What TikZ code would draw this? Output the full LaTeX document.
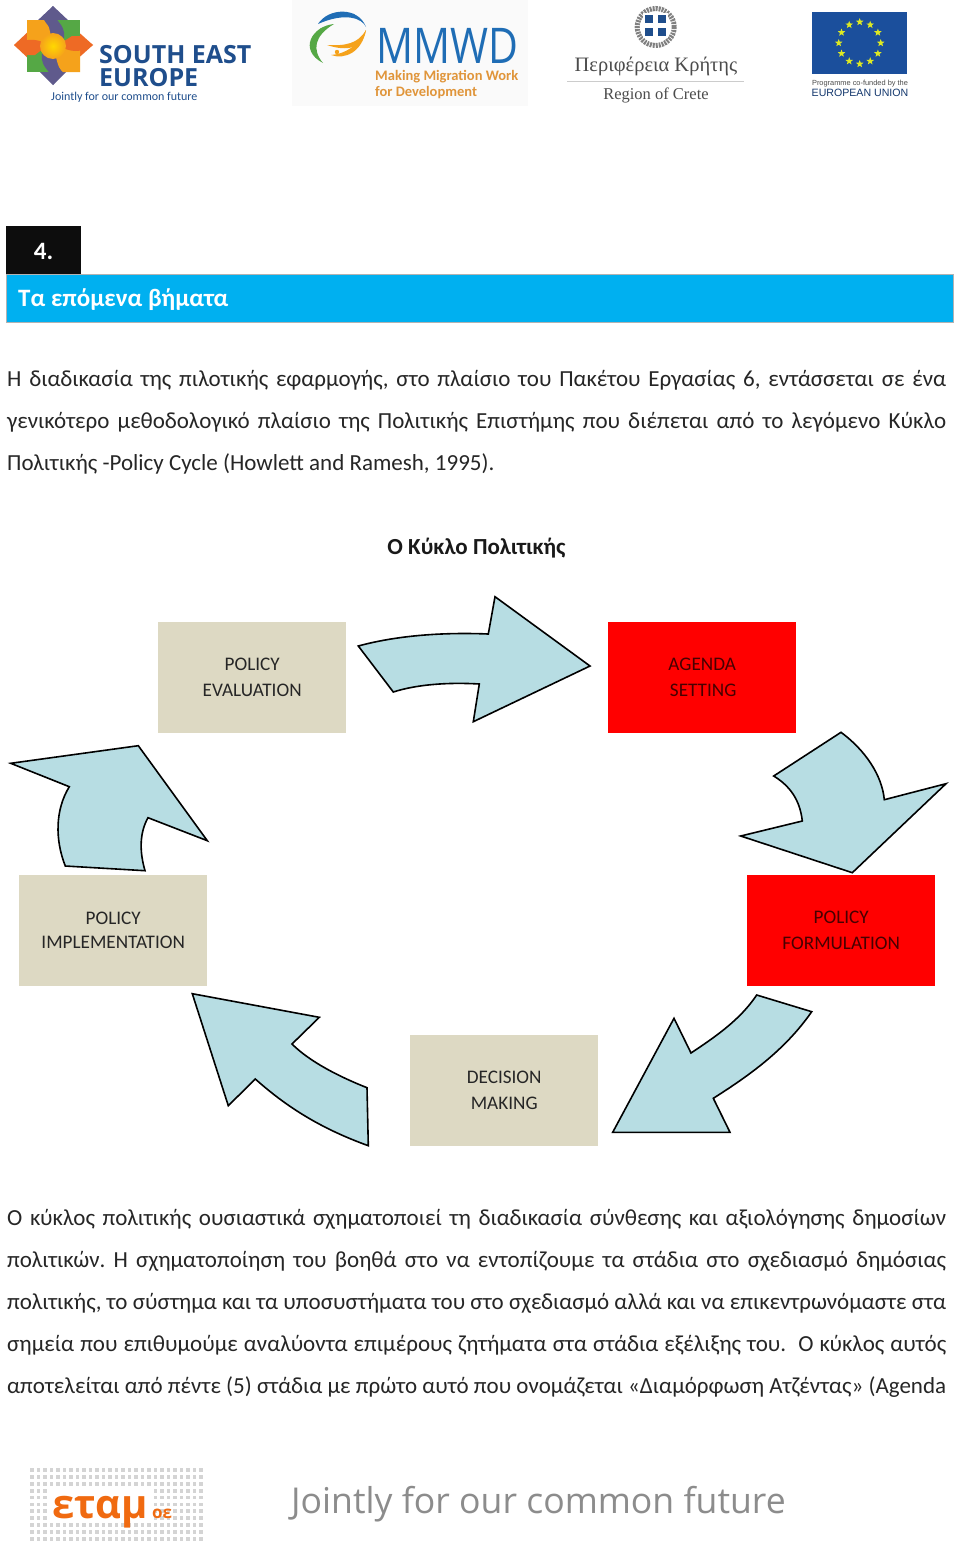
\documentclass[tikz,border=0pt]{standalone}
\usepackage{fontspec}
\setmainfont{Carlito}
\newfontfamily\logosans{Open Sans}
\newfontfamily\logoserif{Liberation Serif}
\newfontfamily\logoarial{Liberation Sans}
\usetikzlibrary{shapes.geometric,calc,decorations.pathmorphing}
\definecolor{tan}{HTML}{DDD9C3}
\definecolor{blockred}{HTML}{FF0000}
\definecolor{arrowfill}{HTML}{B7DDE3}
\definecolor{headblue}{HTML}{00B0F0}
\definecolor{seablue}{HTML}{1F4E8C}
\definecolor{eublue}{HTML}{1B4F9C}
\definecolor{mmwd}{HTML}{1F6DB5}
\definecolor{mmorange}{HTML}{E0953A}
\definecolor{etam}{HTML}{F06A10}
\definecolor{seapurple}{HTML}{5F5A8C}
\definecolor{seagreen}{HTML}{55A845}
\definecolor{seaorange}{HTML}{F5A21B}
\definecolor{seared}{HTML}{EE6A25}
\definecolor{seayellow}{HTML}{FFD800}
\tikzset{
  tanbox/.style={fill=tan,draw=none,minimum width=188pt,minimum height=111pt,anchor=north west,inner sep=0pt,align=center,font=\fontsize{19.2}{26}\selectfont,text=black!85},
  redbox/.style={tanbox,fill=blockred,text=black!72!red},
  blockarrow/.style={fill=arrowfill,draw=black,line width=1.6pt,line join=miter},
  bodyline/.style={anchor=base west,inner sep=0pt,font=\fontsize{23}{26}\selectfont,text=black!85},
}
\newcommand{\just}[1]{\makebox[939pt][s]{#1}}
\frenchspacing
\begin{document}
\begin{tikzpicture}[x=1pt,y=-1pt]
\useasboundingbox (0,0) rectangle (960,1547);
\fill[white] (0,0) rectangle (960,1547);

% South East Europe logo
\fill[seapurple] (53,6) -- (70,22) -- (53,40) -- (36,22) -- cycle;
\fill[seapurple] (53,85) -- (36,68) -- (53,50) -- (70,68) -- cycle;
\fill[seared] (14,45) -- (32,28) -- (48,45) -- (32,62) -- cycle;
\fill[seared] (93,45) -- (74,28) -- (58,45) -- (74,62) -- cycle;
\fill[seagreen] (53,46) -- (53,20) -- (80,20) -- (80,46) -- cycle;
\fill[seagreen] (53,46) -- (53,72) -- (27,72) -- (27,46) -- cycle;
\fill[seaorange] (27,20) -- (44,20) .. controls (50,24) and (50,34) .. (53,46) -- (27,46) -- cycle;
\fill[seaorange] (80,72) -- (63,72) .. controls (57,68) and (57,58) .. (53,46) -- (80,46) -- cycle;
\fill[seapurple] (53,6) .. controls (52,22) and (66,22) .. (64,38) -- (54,38) .. controls (54,28) and (44,24) .. (44,18) -- cycle;
\fill[seapurple] (53,85) .. controls (54,70) and (40,70) .. (42,54) -- (52,54) .. controls (52,64) and (62,68) .. (62,74) -- cycle;
\fill[seared] (14,45) .. controls (25,38) and (38,38) .. (48,45) -- (35,55) -- (27,55) -- cycle;
\fill[seared] (93,45) .. controls (82,53) and (70,53) .. (58,45) -- (72,36) -- (80,36) -- cycle;
\shade[inner color=seayellow,outer color=seaorange] (53,46) circle (13);
\node[anchor=base west,inner sep=0pt,text=seablue,font=\logosans\fontsize{25}{25}\selectfont\bfseries] (seaone) at (99,63) {SOUTH EAST};
\node[anchor=base west,inner sep=0pt,text=seablue,font=\logosans\fontsize{25}{25}\selectfont\bfseries] (seatwo) at (99,86) {EUROPE};
\node[anchor=base west,inner sep=0pt,text=seablue,font=\fontsize{12}{12}\selectfont] (seathree) at (51,100) {Jointly for our common future};

% MMWD logo
\fill[black!2] (292,0) rectangle (528,106);
\fill[mmwd] (318,24) .. controls (328,8) and (358,6) .. (366,27) .. controls (362,18) and (345,12) .. (318,24) -- cycle;
\fill[seaorange] (366,30) .. controls (362,52) and (342,50) .. (327,45) .. controls (345,46) and (358,44) .. (366,30) -- cycle;
\fill[seaorange] (366,30) .. controls (362,52) and (345,60) .. (331,55) .. controls (345,54) and (358,46) .. (366,30) -- cycle;
\fill[seagreen] (334,24) .. controls (312,26) and (298,50) .. (323,63) .. controls (312,50) and (314,36) .. (334,24) -- cycle;
\fill[mmwd] (353,16) circle (2.2);
\fill[seagreen] (322,30) circle (2.2);
\fill[seaorange] (337,52) circle (2.2);
\node[anchor=base west,inner sep=0pt,text=mmwd,font=\logosans\fontsize{41}{41}\selectfont] (mmwdname) at (376,63) {\scalebox{1}[1.2]{MMWD}};
\node[anchor=base west,inner sep=0pt,text=mmorange,font=\fontsize{14.5}{14.5}\selectfont\bfseries] (mmone) at (375,80) {Making Migration Work};
\node[anchor=base west,inner sep=0pt,text=mmorange,font=\fontsize{14.5}{14.5}\selectfont\bfseries] (mmtwo) at (375,96) {for Development};

% Region of Crete logo
\draw[black!50,line width=5pt,dash pattern=on 2pt off 1pt] (655.7,27) circle (18.5);
\fill[white] (643,13) rectangle (668,38);
\fill[seablue] (645,15) rectangle (666,36);
\fill[white] (653,15) rectangle (658,36);
\fill[white] (645,23) rectangle (666,28);
\node[anchor=base,inner sep=0pt,text=black!70,font=\logoserif\fontsize{20.5}{20.5}\selectfont] (creteone) at (656,71) {Περιφέρεια Κρήτης};
\draw[black!20,line width=1pt] (567,81) -- (744,81);
\node[anchor=base,inner sep=0pt,text=black!70,font=\logoserif\fontsize{16.5}{16.5}\selectfont] (cretetwo) at (656,99) {Region of Crete};

% EU flag
\fill[eublue] (812,12) rectangle (907,74);
\foreach \a in {0,30,...,330}
  \node[star,star points=5,star point ratio=2.4,fill=yellow!85!green!90!white,inner sep=0pt,minimum size=8pt,draw=none] at ({859.7+21*cos(\a)},{43+21*sin(\a)}) {};
\node[anchor=base,inner sep=0pt,text=black!70,font=\logoarial\fontsize{7.4}{7.4}\selectfont] (euone) at (860,85) {Programme co-funded by the};
\node[anchor=base,inner sep=0pt,text=eublue!70!black,font=\logoarial\fontsize{10.6}{10.6}\selectfont] (eutwo) at (860,96) {EUROPEAN UNION};

% Section heading
\fill[headblue] (6,274) rectangle (953,322);
\draw[black!30,line width=1pt] (6,274) rectangle (953,322);
\fill[black!95] (6,226) rectangle (81,274);
\node[anchor=base,inner sep=0pt,text=white,font=\fontsize{25}{25}\selectfont\bfseries] (secnum) at (43.5,259) {4.};
\node[anchor=base west,inner sep=0pt,text=white,font=\fontsize{25}{25}\selectfont\bfseries] (sectitle) at (18,306) {Τα επόμενα βήματα};

% Paragraph one
\node[bodyline] (pa) at (7,386) {\just{Η διαδικασία της πιλοτικής εφαρμογής, στο πλαίσιο του Πακέτου Εργασίας 6, εντάσσεται σε ένα}};
\node[bodyline] (pb) at (7,428) {\just{γενικότερο μεθοδολογικό πλαίσιο της Πολιτικής Επιστήμης που διέπεται από το λεγόμενο Κύκλο}};
\node[bodyline] (pc) at (7,470) {Πολιτικής -Policy Cycle (Howlett and Ramesh, 1995).};

% Diagram title
\node[anchor=base,inner sep=0pt,text=black!90,font=\fontsize{23}{26}\selectfont\bfseries] (ctitle) at (476.5,554) {Ο Κύκλο Πολιτικής};

% Cycle boxes
\node[tanbox] (evaluation) at (158,622) {POLICY\\EVALUATION};
\node[redbox] (agenda) at (608,622) {AGENDA\\\hspace*{2pt}SETTING};
\node[tanbox] (implementation) at (19,874.5) {POLICY\\[-2pt]IMPLEMENTATION};
\node[redbox] (formulation) at (747,874.5) {POLICY\\FORMULATION};
\node[tanbox] (decision) at (410,1035) {DECISION\\MAKING};

% Block arrows
\draw[blockarrow] (358.3,646) .. controls (395,636) and (440,632) .. (488.3,634) -- (495,596.7) -- (590,666) -- (473.3,721.7) -- (479.3,684) .. controls (445,682) and (415,685) .. (393.3,692) -- cycle;
\draw[blockarrow] (841,732.3) .. controls (865,750) and (882,775) .. (884.3,799.7) -- (946,783.7) -- (852.3,872.7) -- (740.7,836) -- (802.3,821) .. controls (800,800) and (790,786) .. (773.7,776) -- cycle;
\draw[blockarrow] (756.7,995) -- (811.7,1011.7) .. controls (785,1050) and (750,1075) .. (713.3,1098.3) -- (730,1132.3) -- (612.7,1132.3) -- (674,1018.3) -- (691,1053) .. controls (715,1037) and (740,1020) .. (756.7,995) -- cycle;
\draw[blockarrow] (192.3,993.7) -- (319.3,1017.3) -- (292,1044) .. controls (310,1062) and (340,1077) .. (367,1087.7) -- (368.3,1145.7) .. controls (325,1130) and (290,1110) .. (255.3,1079) -- (228.3,1105.7) -- cycle;
\draw[blockarrow] (138.3,745.7) -- (207.3,840.7) -- (148,817.7) .. controls (140,832) and (139,850) .. (145,870.7) -- (65.3,866) .. controls (55,840) and (55,810) .. (69.3,786.7) -- (10.7,763.3) -- cycle;

% Paragraph two
\node[bodyline] (qa) at (7,1225) {\just{Ο κύκλος πολιτικής ουσιαστικά σχηματοποιεί τη διαδικασία σύνθεσης και αξιολόγησης δημοσίων}};
\node[bodyline] (qb) at (7,1267) {\just{πολιτικών. Η σχηματοποίηση του βοηθά στο να εντοπίζουμε τα στάδια στο σχεδιασμό δημόσιας}};
\node[bodyline] (qc) at (7,1309) {\just{πολιτικής, το σύστημα και τα υποσυστήματα του στο σχεδιασμό αλλά και να επικεντρωνόμαστε στα}};
\node[bodyline] (qd) at (7,1351) {\just{σημεία που επιθυμούμε αναλύοντα επιμέρους ζητήματα στα στάδια εξέλιξης του.\ \ Ο κύκλος αυτός}};
\node[bodyline] (qe) at (7,1393) {\just{αποτελείται από πέντε (5) στάδια με πρώτο αυτό που ονομάζεται «Διαμόρφωση Ατζέντας» (Agenda}};

% Footer logo
\foreach \r in {0,...,10}
  \foreach \c in {0,...,26}
    \fill[black!17] ({30+\c*6.5},{1468+\r*6.9}) rectangle ++(3.6,3.8);
\fill[white] (50,1489) rectangle (151,1523);
\node[anchor=base west,inner sep=0pt,text=etam,font=\logosans\fontsize{40}{40}\selectfont\bfseries] (etamname) at (52,1518) {εταμ};
\node[anchor=base west,inner sep=0pt,text=etam,font=\logosans\fontsize{17}{17}\selectfont\bfseries] (etamoe) at (152,1518) {οε};
\node[anchor=base west,inner sep=0pt,text=black!45,font=\logosans\fontsize{35.6}{35.6}\selectfont] (motto) at (291,1513) {Jointly for our common future};
\end{tikzpicture}
\end{document}
